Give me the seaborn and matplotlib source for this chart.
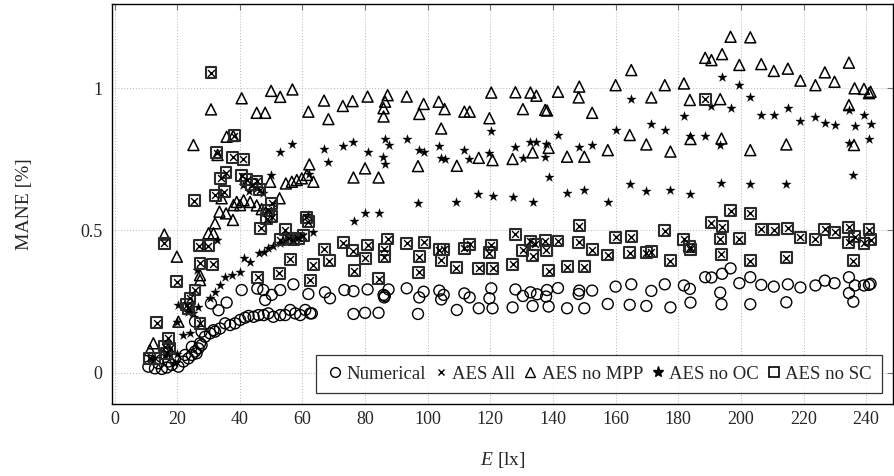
import numpy as np
import pandas as pd
import matplotlib
matplotlib.use("Agg")
import matplotlib.pyplot as plt
from matplotlib.lines import Line2D
import seaborn as sns

# ---------------- data ----------------
num_x = [10.8, 12.9, 15.1, 16.7, 18.3, 20.4, 22.0, 23.6, 24.7, 25.7, 26.8, 27.3, 28.9, 30.5, 32.1, 33.7,
         35.3, 36.9, 38.5, 40.1, 41.7, 42.8, 44.4, 46.0, 47.6, 49.1, 50.7, 52.9, 54.5, 56.1, 57.7, 59.3,
         60.9, 62.5, 14.0, 17.2, 19.3, 22.5, 24.7, 26.2, 27.8, 27.8, 31.6, 25.7,
         30.8, 33.2, 35.8, 40.6, 45.6, 48.1, 50.2, 52.9, 57.1, 61.9, 47.5,
         63.0, 67.2, 68.8, 73.4, 76.3, 76.3, 80.8, 80.0, 84.3, 85.9, 86.1, 86.3, 87.5, 93.3,
         98.7, 97.3, 96.9, 103.7, 105.1, 104.3, 109.3, 111.7, 113.4, 116.3, 120.3, 119.7, 120.7,
         128.0, 130.4, 127.1, 132.8, 134.9, 138.1, 137.8, 133.5, 138.6, 141.6, 144.5,
         148.4, 148.2, 152.5, 150.0, 157.5, 160.0, 165.0, 164.5, 171.4, 169.8, 175.7, 177.5,
         181.8, 183.7, 183.9, 188.6, 190.6, 194.0, 196.7, 193.4, 193.8,
         199.5, 203.0, 206.5, 210.5, 215.0, 219.0, 223.8, 226.8, 229.9, 234.5, 236.4, 239.3,
         240.9, 241.4, 234.5, 203.0, 214.5, 235.9]
num_y = [0.022, 0.016, 0.014, 0.019, 0.028, 0.022, 0.040, 0.051, 0.063, 0.075, 0.086, 0.104, 0.127, 0.139, 0.145, 0.156,
         0.174, 0.168, 0.174, 0.186, 0.194, 0.200, 0.197, 0.203, 0.203, 0.209, 0.197, 0.203, 0.203, 0.221, 0.209, 0.203,
         0.221, 0.209, 0.034, 0.040, 0.051, 0.063, 0.092, 0.069, 0.098, 0.145, 0.150, 0.180,
         0.244, 0.220, 0.247, 0.291, 0.296, 0.256, 0.274, 0.291, 0.311, 0.277, 0.291,
         0.209, 0.283, 0.262, 0.291, 0.287, 0.207, 0.293, 0.211, 0.211, 0.274, 0.265, 0.270, 0.293, 0.297,
         0.285, 0.265, 0.207, 0.289, 0.274, 0.258, 0.221, 0.279, 0.265, 0.227, 0.297, 0.262, 0.227,
         0.293, 0.270, 0.230, 0.283, 0.276, 0.291, 0.268, 0.235, 0.233, 0.298, 0.227,
         0.289, 0.277, 0.289, 0.227, 0.242, 0.303, 0.311, 0.239, 0.288, 0.235, 0.311, 0.230,
         0.307, 0.295, 0.247, 0.336, 0.335, 0.348, 0.367, 0.282, 0.241,
         0.315, 0.336, 0.309, 0.303, 0.311, 0.300, 0.307, 0.324, 0.315, 0.336, 0.307, 0.307,
         0.309, 0.313, 0.280, 0.241, 0.248, 0.250]

mpp_x = [11.3, 12.4, 15.9, 19.9, 20.4, 27.3, 27.3, 30.0, 31.6, 32.1, 33.5, 35.6, 37.8, 34.2, 38.0, 40.1,
         39.0, 41.2, 43.3, 45.4, 47.0, 49.7, 52.7, 54.7, 56.6, 58.2, 59.8, 61.4, 62.2, 63.5, 25.2, 32.9,
         35.8, 37.9, 30.8, 40.6, 45.4, 48.1, 50.0, 52.9, 56.8, 61.9,
         66.9, 68.3, 72.9, 76.0, 80.8, 87.2, 86.4, 85.9, 85.9, 93.3, 76.3, 80.0, 84.3,
         98.7, 97.3, 96.9, 103.5, 105.4, 104.3, 111.7, 113.4, 109.3, 116.3, 120.3, 119.7, 120.7,
         128.0, 130.4, 127.1, 132.8, 134.7, 137.5, 138.1, 133.5, 138.6, 141.6, 144.5,
         148.4, 148.2, 152.5, 150.0, 157.5, 160.0, 165.0, 164.5, 171.4, 169.8, 175.7, 177.5,
         181.8, 183.7, 183.9, 188.6, 190.6, 194.0, 196.7, 193.4, 193.8,
         199.5, 203.0, 206.5, 210.5, 215.0, 219.0, 223.8, 226.8, 229.9, 234.5, 236.3, 239.3,
         240.9, 241.4, 234.5, 203.0, 214.5, 236.1]
mpp_y = [0.080, 0.104, 0.486, 0.408, 0.180, 0.326, 0.343, 0.490, 0.490, 0.525, 0.566, 0.560, 0.537, 0.613, 0.589, 0.589,
         0.600, 0.606, 0.600, 0.588, 0.575, 0.671, 0.613, 0.665, 0.671, 0.677, 0.683, 0.695, 0.732, 0.671, 0.800, 0.765,
         0.829, 0.832, 0.925, 0.964, 0.913, 0.913, 0.990, 0.969, 0.995, 0.917,
         0.956, 0.891, 0.937, 0.954, 0.970, 0.975, 0.952, 0.929, 0.900, 0.970, 0.686, 0.718, 0.686,
         0.944, 0.909, 0.726, 0.952, 0.926, 0.858, 0.917, 0.917, 0.727, 0.755, 0.984, 0.894, 0.747,
         0.985, 0.926, 0.751, 0.984, 0.973, 0.923, 0.921, 0.774, 0.790, 0.987, 0.759,
         1.005, 0.967, 0.913, 0.759, 0.782, 1.010, 1.063, 0.835, 0.967, 0.802, 1.010, 0.777,
         1.016, 0.958, 0.821, 1.106, 1.098, 1.119, 1.180, 0.961, 0.823,
         1.081, 1.178, 1.084, 1.060, 1.068, 1.026, 1.010, 1.055, 1.022, 1.089, 0.999, 0.997,
         0.982, 0.987, 0.940, 0.782, 0.802, 0.800]

oc_x = [11.9, 16.1, 19.3, 19.9, 19.9, 20.4, 22.0, 24.1, 23.6, 25.2, 26.8, 26.2, 30.5, 32.1, 33.7, 35.3,
        37.4, 40.1, 41.2, 43.3, 46.0, 47.6, 49.1, 50.7, 52.9, 54.5, 56.6, 58.2, 59.8, 61.9, 63.5, 32.6,
        49.9, 62.2, 41.0, 43.0, 45.5, 47.5,
        52.9, 56.8, 66.9, 68.3, 72.9, 76.0, 80.8, 86.4, 87.5, 85.8, 86.3, 93.3, 76.5, 80.0, 84.3,
        97.1, 98.7, 96.9, 103.7, 104.3, 105.4, 109.1, 111.7, 113.1, 116.1, 120.3, 119.7, 120.7,
        128.0, 130.3, 127.1, 132.8, 134.7, 137.8, 137.3, 133.5, 138.6, 141.6, 144.5,
        148.2, 152.3, 150.0, 157.5, 160.0, 165.0, 164.5, 171.4, 169.8, 175.7, 177.5,
        181.8, 183.7, 183.9, 188.6, 190.6, 194.0, 196.7, 193.4, 193.8,
        199.5, 203.0, 206.5, 210.5, 215.0, 219.0, 223.8, 226.8, 229.9, 234.5, 239.3, 236.3,
        241.4, 240.9, 234.5, 203.0, 214.5, 235.9]
oc_y = [0.051, 0.063, 0.034, 0.065, 0.180, 0.239, 0.133, 0.139, 0.215, 0.212, 0.233, 0.361, 0.262, 0.285, 0.309, 0.338,
        0.344, 0.356, 0.402, 0.391, 0.420, 0.426, 0.437, 0.445, 0.455, 0.467, 0.472, 0.476, 0.484, 0.554, 0.496, 0.467,
        0.695, 0.700, 0.660, 0.640, 0.650, 0.630,
        0.774, 0.802, 0.785, 0.739, 0.795, 0.812, 0.774, 0.820, 0.800, 0.759, 0.735, 0.821, 0.534, 0.560, 0.560,
        0.782, 0.777, 0.595, 0.796, 0.753, 0.750, 0.601, 0.782, 0.750, 0.628, 0.849, 0.773, 0.621,
        0.794, 0.756, 0.619, 0.812, 0.812, 0.803, 0.759, 0.601, 0.686, 0.835, 0.633,
        0.794, 0.800, 0.642, 0.601, 0.853, 0.961, 0.662, 0.874, 0.639, 0.853, 0.642,
        0.901, 0.832, 0.628, 0.832, 0.937, 1.037, 0.929, 0.800, 0.666,
        1.011, 0.970, 0.905, 0.905, 0.929, 0.884, 0.897, 0.879, 0.870, 0.923, 0.905, 0.866,
        0.873, 0.821, 0.806, 0.663, 0.663, 0.695]

sc_x = [11.3, 12.9, 13.5, 16.1, 17.2, 16.7, 17.7, 15.9, 19.9, 23.1, 23.6, 24.1, 25.7, 27.3, 27.0, 30.0,
        27.3, 31.4, 25.4, 32.1, 35.0, 33.9, 35.6, 32.7, 37.7, 41.1, 38.2, 30.8, 40.6, 42.2, 43.8, 45.4,
        46.3, 49.1, 48.6, 50.2, 50.2, 46.7, 45.7, 52.6, 56.1, 63.5, 62.5, 54.5, 52.9, 55.5, 57.1, 58.7,
        60.3, 61.2, 61.9,
        67.0, 68.6, 73.1, 76.0, 80.8, 87.2, 86.1, 86.1, 93.3, 76.5, 80.0, 84.3,
        98.9, 97.3, 97.1, 103.7, 105.1, 104.3, 109.1, 111.7, 113.4, 116.3, 120.3, 119.7, 120.7,
        128.0, 130.4, 127.1, 132.8, 134.4, 137.5, 137.9, 133.5, 138.6, 141.6, 144.5,
        148.4, 148.2, 152.5, 150.0, 157.5, 160.0, 165.0, 164.5, 171.4, 169.8, 175.7, 177.5,
        181.8, 183.7, 183.9, 188.6, 190.6, 194.0, 196.7, 193.4, 193.8,
        199.5, 203.0, 206.5, 210.5, 215.0, 219.0, 223.8, 226.8, 229.9, 234.5, 234.5, 236.4,
        239.3, 240.9, 241.4, 203.0, 214.5, 235.9]
sc_y = [0.051, 0.051, 0.177, 0.092, 0.121, 0.069, 0.087, 0.455, 0.320, 0.239, 0.227, 0.262, 0.291, 0.174, 0.447, 0.447,
        0.385, 0.381, 0.604, 0.624, 0.636, 0.683, 0.703, 0.773, 0.757, 0.750, 0.832, 1.054, 0.692, 0.678, 0.660, 0.672,
        0.643, 0.571, 0.542, 0.548, 0.595, 0.508, 0.335, 0.350, 0.399, 0.379, 0.326, 0.502, 0.467, 0.472, 0.467, 0.472,
        0.482, 0.546, 0.531,
        0.434, 0.394, 0.457, 0.429, 0.449, 0.470, 0.434, 0.408, 0.455, 0.359, 0.402, 0.330,
        0.458, 0.408, 0.353, 0.432, 0.434, 0.396, 0.370, 0.437, 0.451, 0.367, 0.449, 0.422, 0.367,
        0.486, 0.430, 0.381, 0.463, 0.452, 0.464, 0.431, 0.412, 0.359, 0.463, 0.373,
        0.516, 0.459, 0.432, 0.373, 0.414, 0.476, 0.478, 0.422, 0.425, 0.422, 0.499, 0.394,
        0.469, 0.443, 0.434, 0.960, 0.527, 0.513, 0.569, 0.470, 0.417,
        0.471, 0.560, 0.505, 0.502, 0.508, 0.476, 0.469, 0.505, 0.493, 0.511, 0.458, 0.478,
        0.455, 0.502, 0.467, 0.394, 0.404, 0.394]

# AES All coincides with AES no SC (marks drawn inside the squares)
all_x = list(sc_x)
all_y = list(sc_y)

series_names = ["Numerical", "AES All", "AES no MPP", "AES no OC", "AES no SC"]
x_ticks = [0, 20, 40, 60, 80, 100, 120, 140, 160, 180, 200, 220, 240]
y_ticks = [0, 0.5, 1]
y_tick_labels = ["0", "0.5", "1"]

# ---------------- style ----------------
sns.set_theme(style="white")
plt.rcParams["font.family"] = ["Liberation Serif", "DejaVu Serif"]
plt.rcParams["mathtext.fontset"] = "custom"
plt.rcParams["mathtext.rm"] = "Liberation Serif"
plt.rcParams["mathtext.it"] = "Liberation Serif:italic"
FS = 13.5

fig = plt.figure(figsize=(8.94, 4.76), dpi=100)
ax = fig.add_axes([0.1253, 0.1513, 0.8737, 0.8403])

edge = "black"
sns.scatterplot(x=num_x, y=num_y, ax=ax, marker="o", s=62, facecolors="none",
                edgecolor=edge, linewidth=1.0, zorder=3)
sns.scatterplot(x=mpp_x, y=mpp_y, ax=ax, marker="^", s=62, facecolors="none",
                edgecolor=edge, linewidth=1.1, zorder=3)
sns.scatterplot(x=oc_x, y=oc_y, ax=ax, marker="*", s=50, color=edge,
                edgecolor=edge, linewidth=0.2, zorder=3)
sns.scatterplot(x=sc_x, y=sc_y, ax=ax, marker="s", s=62, facecolors="none",
                edgecolor="#2a2a2a", linewidth=1.5, zorder=3)
sns.scatterplot(x=all_x, y=all_y, ax=ax, marker="x", s=24, color=edge,
                linewidth=1.0, zorder=4)

ax.set_xlim(-0.8, 248.6)
ax.set_ylim(-0.109, 1.295)
ax.set_xticks(x_ticks)
ax.set_xticklabels([str(t) for t in x_ticks])
ax.set_yticks(y_ticks)
ax.set_yticklabels(y_tick_labels)
ax.tick_params(axis="both", direction="in", top=True, right=True, length=4,
               width=0.8, color="#777777", labelsize=FS - 0.5)
ax.tick_params(axis="x", pad=5)
ax.tick_params(axis="y", pad=7)
ax.grid(True, linestyle=(0, (1, 2)), color="#b5b5b5", linewidth=0.7)
ax.set_axisbelow(True)
for sp in ax.spines.values():
    sp.set_color("black")
    sp.set_linewidth(1.0)

ax.set_xlabel("$E$ [lx]", fontsize=FS + 0.5, labelpad=16)
ax.set_ylabel("MANE [%]", fontsize=FS + 0.5, labelpad=34)

handles = [
    Line2D([], [], linestyle="none", marker="o", markersize=7, markerfacecolor="none",
           markeredgecolor="black", markeredgewidth=1.0),
    Line2D([], [], linestyle="none", marker="x", markersize=5, color="black",
           markeredgewidth=1.0),
    Line2D([], [], linestyle="none", marker="^", markersize=7, markerfacecolor="none",
           markeredgecolor="black", markeredgewidth=1.0),
    Line2D([], [], linestyle="none", marker="*", markersize=8, color="black"),
    Line2D([], [], linestyle="none", marker="s", markersize=7.5, markerfacecolor="none",
           markeredgecolor="black", markeredgewidth=1.2),
]
leg = ax.legend(handles, series_names, loc="lower right", bbox_to_anchor=(0.986, 0.0275),
                ncol=5, frameon=True, fancybox=False, fontsize=FS, borderaxespad=0,
                handlelength=0.9, handletextpad=0.15, columnspacing=0.35,
                borderpad=0.55)
leg.get_frame().set_edgecolor("black")
leg.get_frame().set_linewidth(0.9)

fig.savefig("out.png", dpi=100)
